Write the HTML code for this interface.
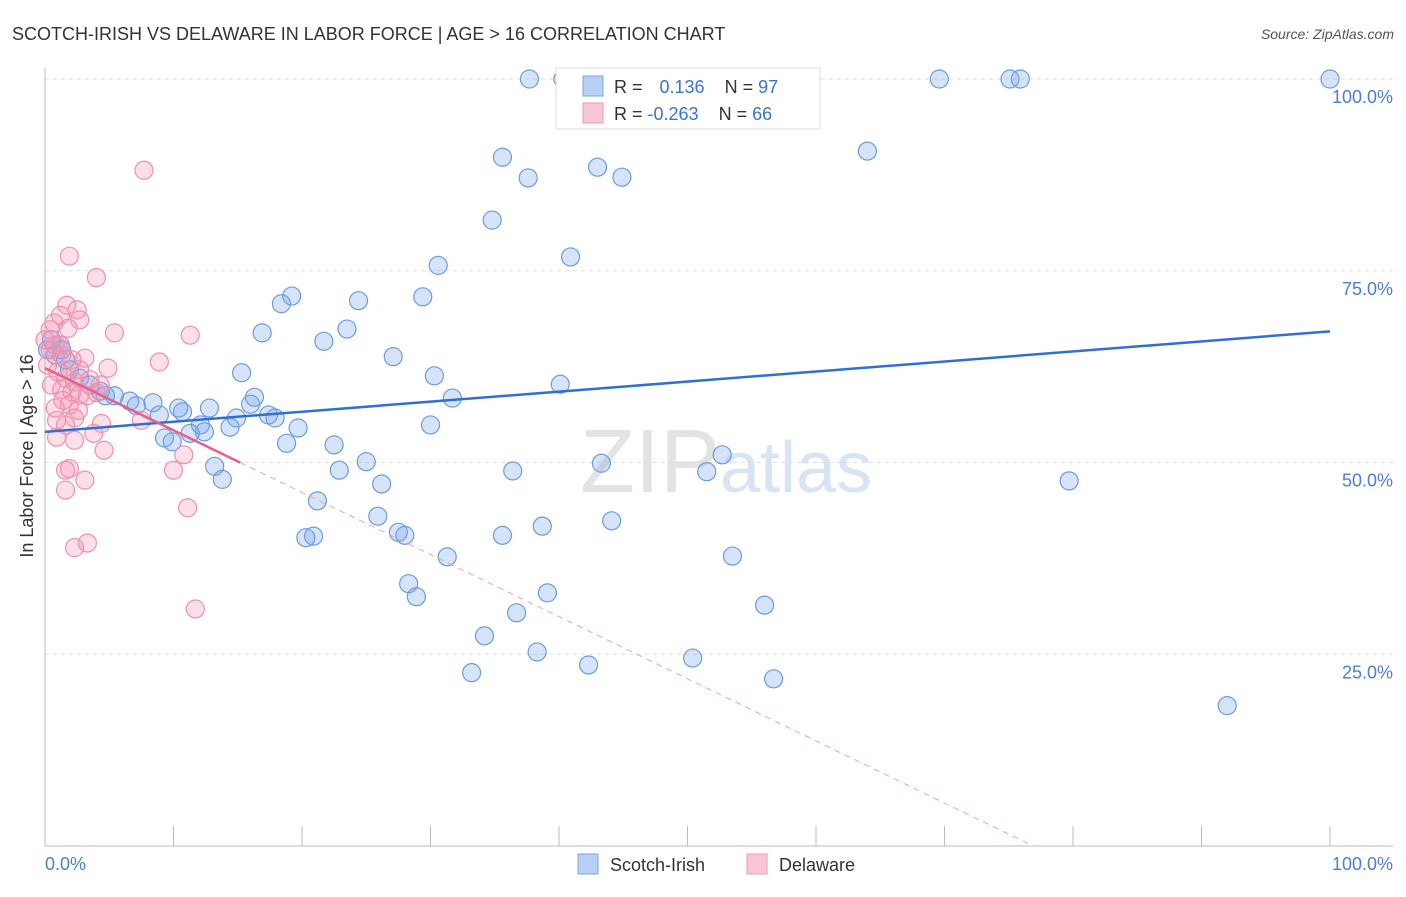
<!DOCTYPE html>
<html><head><meta charset="utf-8"><style>
body{margin:0;background:#fff;font-family:"Liberation Sans",sans-serif}
svg text{font-family:"Liberation Sans",sans-serif}
</style></head><body>
<svg id="c" width="1406" height="892">
<text x="12" y="40" font-size="18" fill="#333">SCOTCH-IRISH VS DELAWARE IN LABOR FORCE | AGE &gt; 16 CORRELATION CHART</text>
<text x="1394" y="39" font-size="14" fill="#555" font-style="italic" text-anchor="end">Source: ZipAtlas.com</text>
<text x="720" y="492" font-size="90" fill="#e3e3e3" font-family="Liberation Serif" text-anchor="end">ZIP</text>
<text x="720" y="492" font-size="72" fill="#d6e4f5">atlas</text>
<g id="grid"></g><g id="pts"></g><g id="lines"></g>
<text transform="translate(33,456) rotate(-90)" font-size="18" fill="#333" text-anchor="middle">In Labor Force | Age &gt; 16</text>
<text x="45" y="870" font-size="18" fill="#4a7fd4">0.0%</text>
<text x="1393" y="870" font-size="18" fill="#4a7fd4" text-anchor="end">100.0%</text>
<g>
<rect x="556" y="68" width="264" height="61" fill="#fff" stroke="#ddd"/>
<rect x="583" y="76" width="20" height="20" fill="#b8d0f3" stroke="#7aa5e6"/>
<rect x="583" y="103" width="20" height="20" fill="#f9c6d5" stroke="#ee9ab4"/>
<text x="614" y="93" font-size="18" fill="#333">R = <tspan fill="#3b73cf" dx="12">0.136</tspan><tspan dx="20">N = </tspan><tspan fill="#3b73cf">97</tspan></text>
<text x="614" y="120" font-size="18" fill="#333">R = <tspan fill="#3b73cf">-0.263</tspan><tspan dx="20">N = </tspan><tspan fill="#3b73cf">66</tspan></text>
</g>
<g>
<rect x="578" y="854" width="20" height="20" fill="#b8d0f3" stroke="#7aa5e6"/>
<text x="610" y="871" font-size="18" fill="#333">Scotch-Irish</text>
<rect x="747" y="854" width="20" height="20" fill="#f9c6d5" stroke="#ee9ab4"/>
<text x="779" y="871" font-size="18" fill="#333">Delaware</text>
</g>
</svg>
<script>
const yTicks=[25,50,75,100];
const yTickLabels=["25.0%","50.0%","75.0%","100.0%"];
const blueX=[37.7,40.3,46.1,48.9,69.6,75.1,75.9,100,35.6,64.0,43.0,37.6,44.9,34.8,40.9,30.6,19.2,18.4,29.4,24.4,16.9,23.5,21.7,27.1,40.1,30.3,31.7,15.3,16.3,16.0,12.8,10.7,10.4,8.4,6.6,7.1,5.4,4.3,4.7,8.9,14.9,17.4,17.9,14.4,12.1,12.4,11.3,19.7,30.0,9.3,9.9,18.8,22.5,13.2,13.8,22.9,25.0,26.2,36.4,43.3,51.5,52.7,79.7,21.2,25.9,20.3,20.9,27.5,28.0,35.6,38.7,44.1,31.3,53.5,28.3,28.9,39.1,36.7,56.0,34.2,38.3,42.3,50.4,33.2,56.7,92.0,1.2,0.8,1.6,1.9,2.7,3.5,0.2,0.5,1.3];
const blueY=[100,100,100,100,100,100,100,100,89.8,90.6,88.5,87.1,87.2,81.6,76.8,75.7,71.7,70.7,71.6,71.1,66.9,67.4,65.8,63.8,60.2,61.3,58.4,61.7,58.5,57.6,57.1,56.6,57.1,57.8,58.0,57.4,58.7,59.3,58.7,56.2,55.8,56.2,55.8,54.6,54.9,54.0,53.8,54.5,54.9,53.2,52.7,52.5,52.3,49.5,47.8,49.0,50.1,47.2,48.9,49.9,48.8,51.0,47.6,45.0,43.0,40.2,40.4,40.9,40.5,40.5,41.7,42.4,37.7,37.8,34.2,32.5,33.0,30.4,31.4,27.4,25.3,23.6,24.5,22.6,21.8,18.3,65.3,64.0,63.4,62.1,61.0,60.1,64.7,66.0,64.7];
const pinkX=[7.7,1.9,4.0,1.7,2.5,1.2,2.7,0.7,1.8,5.4,11.3,8.9,4.9,0.4,0.8,1.3,2.1,3.1,0.2,1.0,1.6,2.3,3.5,0.5,1.3,2.1,2.7,4.0,0.8,1.9,0.9,2.3,4.4,7.5,3.8,2.3,0.9,10.8,4.6,1.6,1.9,10.0,3.1,1.6,11.1,2.3,3.3,11.7,1.4,0.4,1.2,0,2.7,4.3,3.3,2.6,1.6];
const pinkY=[88.1,76.9,74.1,70.5,69.9,69.2,68.6,68.2,67.5,66.9,66.6,63.1,62.3,67.3,65.3,64.0,63.4,63.6,62.7,61.8,61.0,60.5,60.8,60.1,59.5,59.2,58.8,59.1,57.1,57.5,55.5,55.8,55.1,55.5,53.8,52.9,53.3,51.0,51.6,49.0,49.2,49.0,47.7,46.4,44.1,38.9,39.5,30.9,58.1,64.7,65.3,66.0,62.1,60.1,58.7,56.8,54.9];
const blueFit=[54.0,67.1];
const pinkFit=[62.3,-0.81];
const X0=45,X1=1330,Y0=846,Y100=79;
const sx=v=>X0+(X1-X0)*v/100, sy=v=>Y0-(Y0-Y100)*v/100;
const NS="http://www.w3.org/2000/svg";
function mk(t,a,p){const e=document.createElementNS(NS,t);for(const k in a)e.setAttribute(k,a[k]);p.appendChild(e);return e;}
const g=document.getElementById('grid');
yTicks.forEach((t,i)=>{
 const l=mk('line',{x1:X0,x2:1393,y1:sy(t),y2:sy(t),stroke:'#ddd','stroke-dasharray':'4,4'},g);
 
 
 const tx=mk('text',{x:1393,y:sy(t)+24,'font-size':18,fill:'#4a7fd4','text-anchor':'end'},g);
 tx.textContent=yTickLabels[i];
 
 
});
const ax=mk('line',{x1:X0,x2:X0,y1:68,y2:Y0,stroke:'#bbb'},g);


const bx=mk('line',{x1:X0,x2:1393,y1:Y0,y2:Y0,stroke:'#bbb'},g);


for(let i=1;i<=10;i++){
 const t=mk('line',{x1:sx(i*10),x2:sx(i*10),y1:Y0-20,y2:Y0,stroke:'#bbb'},g);
 
 
}
const p=document.getElementById('pts');
blueX.forEach((v,i)=>{
 const c=mk('circle',{cx:sx(v),cy:sy(blueY[i]),r:9,fill:'rgba(120,165,235,0.3)',stroke:'#6b9be0','stroke-width':1.2},p);
 
 
});
pinkX.forEach((v,i)=>{
 const c=mk('circle',{cx:sx(v),cy:sy(pinkY[i]),r:9,fill:'rgba(245,150,180,0.3)',stroke:'#ee90ae','stroke-width':1.2},p);
 
 
});
const L=document.getElementById('lines');
const b=mk('line',{x1:sx(0),y1:sy(blueFit[0]),x2:sx(100),y2:sy(blueFit[1]),stroke:'#2f6fd6','stroke-width':2.5},L);


const xe=15.2, xz=-pinkFit[0]/pinkFit[1];
const ps=mk('line',{x1:sx(0),y1:sy(pinkFit[0]),x2:sx(xe),y2:sy(pinkFit[0]+pinkFit[1]*xe),stroke:'#e8608a','stroke-width':2.5},L);


const pd=mk('line',{x1:sx(xe),y1:sy(pinkFit[0]+pinkFit[1]*xe),x2:sx(xz),y2:sy(0),stroke:'#eea0b8','stroke-width':1,'stroke-dasharray':'6,5'},L);


</script>
</body></html>
